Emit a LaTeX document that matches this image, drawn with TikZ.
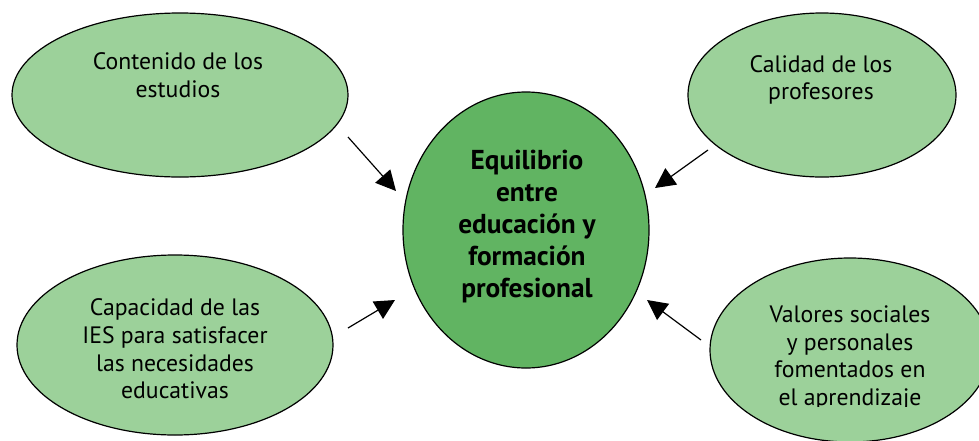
\documentclass[tikz,border=0pt]{standalone}
\usepackage{fontspec}
\setmainfont{PT Sans}
\usetikzlibrary{shapes.geometric,arrows.meta}
\definecolor{lightgreen}{HTML}{9CD19A}
\definecolor{midgreen}{HTML}{61B462}
\tikzset{
  outer/.style={ellipse,draw=black,line width=0.9pt,fill=lightgreen,inner sep=0pt},
  inner/.style={ellipse,draw=black,line width=0.9pt,fill=midgreen,inner sep=0pt},
  lbl/.style={align=center,font=\fontsize{17.8}{20.8}\selectfont,inner sep=0pt},
  clbl/.style={align=center,font=\fontsize{20.5}{24}\selectfont\bfseries,inner sep=0pt},
  arr/.style={line width=0.9pt,-{Triangle[length=15pt,width=15pt]}}
}
\begin{document}
\begin{tikzpicture}[x=0.75pt,y=-0.75pt]
\clip (0,0) rectangle (979,440);
\useasboundingbox (0,0) rectangle (979,440);
% ellipses
\node[outer,minimum width=252pt,minimum height=123pt] (e1) at (180,95) {};
\node[outer,minimum width=201pt,minimum height=123pt] (e2) at (822,95) {};
\node[outer,minimum width=237pt,minimum height=135pt] (e3) at (175,345) {};
\node[outer,minimum width=210pt,minimum height=138pt] (e4) at (850,350) {};
\node[inner,minimum width=184.5pt,minimum height=207pt] (c) at (526,230) {};
% texts
\node[lbl] (t1) at (178,75) {Contenido de los\\estudios};
\node[lbl] (t2) at (821,80) {Calidad de los\\profesores};
\node[lbl] (t3) at (175,349) {Capacidad de las\\IES para satisfacer\\las necesidades\\educativas};
\begin{scope}
\clip (690,250) rectangle (979,406);
\node[lbl] (t4) at (850,358) {Valores sociales\\y personales\\fomentados en\\el aprendizaje};
\end{scope}
\node[clbl] (tc) at (527,227) {Equilibrio\\entre\\educación y\\formación\\profesional};
% arrow endpoints
\coordinate (a1s) at (348,137);
\coordinate (a1e) at (396,191);
\coordinate (a2s) at (348,328);
\coordinate (a2e) at (395,300);
\coordinate (a3s) at (708,150);
\coordinate (a3e) at (655,188);
\coordinate (a4s) at (701,340);
\coordinate (a4e) at (647,300);
\draw[arr] (a1s) -- (a1e);
\draw[arr] (a2s) -- (a2e);
\draw[arr] (a3s) -- (a3e);
\draw[arr] (a4s) -- (a4e);
\end{tikzpicture}
\end{document}
